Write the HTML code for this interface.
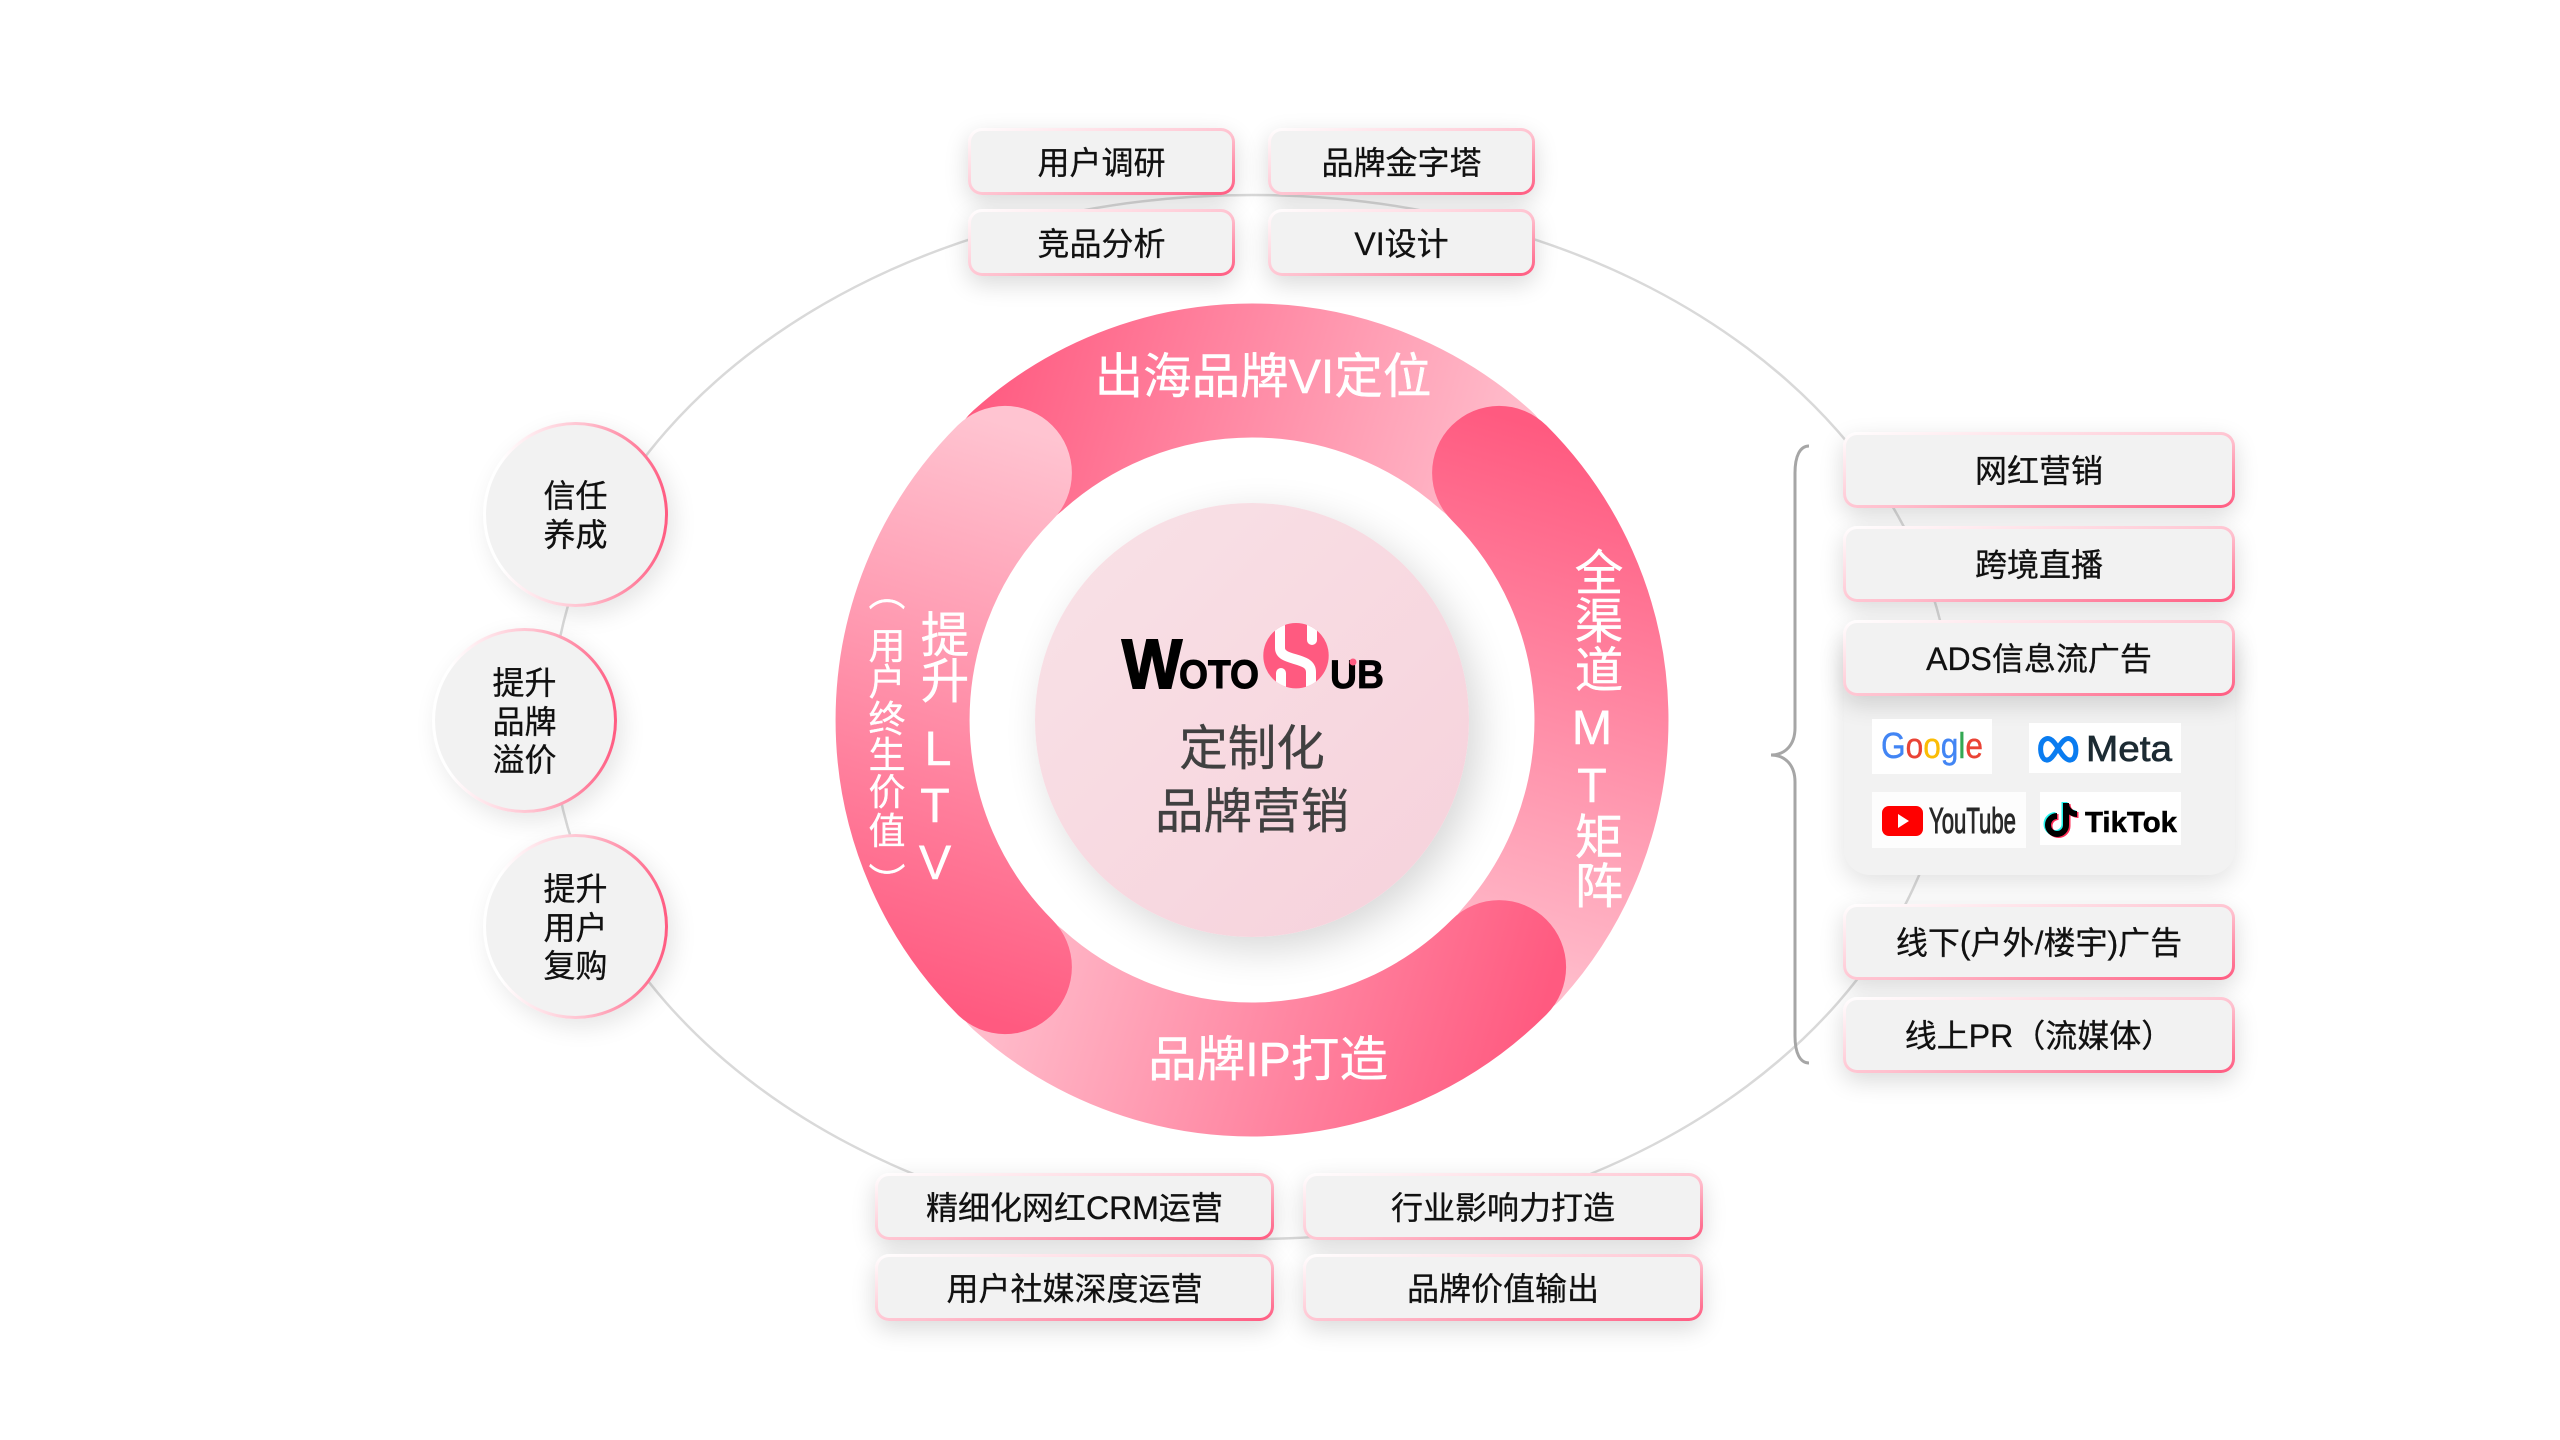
<!DOCTYPE html>
<html lang="zh-CN">
<head>
<meta charset="utf-8">
<title>定制化品牌营销</title>
<style>
html,body{margin:0;padding:0;background:#fff;}
#stage{position:relative;width:2560px;height:1440px;overflow:hidden;background:#fff;font-family:"Liberation Sans","Noto Sans CJK SC",sans-serif;}
svg.layer{position:absolute;left:0;top:0;width:2560px;height:1440px;}
svg text{font-family:"Liberation Sans","Noto Sans CJK SC",sans-serif;}
.box{position:absolute;box-sizing:border-box;display:flex;align-items:center;justify-content:center;text-align:center;font-size:32px;line-height:38.7px;color:#111;border:3px solid transparent;border-radius:14px;white-space:nowrap;padding-top:3px;-webkit-text-stroke:.3px #111;
background:linear-gradient(#f2f2f2,#f2f2f2) padding-box,linear-gradient(to bottom right,#ffffff 0%,#ffc0ce 55%,#ff5a80 100%) border-box;
box-shadow:0 8px 24px rgba(0,0,0,.15);}
.cir{border-radius:50%;background:linear-gradient(#f2f2f2,#f2f2f2) padding-box,linear-gradient(to right,#ffffff 10%,#ffc0ce 55%,#ff5a80 100%) border-box;box-shadow:6px 8px 24px rgba(0,0,0,.1);}
#core{position:absolute;left:1035px;top:503px;width:434px;height:434px;border-radius:50%;background:linear-gradient(135deg,#f9e2e7,#f6d1db);box-shadow:10px 12px 40px rgba(0,0,0,.16);}
#panel{position:absolute;left:1844px;top:640px;width:391px;height:235px;border-radius:0 0 26px 26px;background:#f2f2f2;box-shadow:0 8px 26px rgba(0,0,0,.12);}
</style>
</head>
<body>
<div id="stage">
<svg class="layer" viewBox="0 0 2560 1440">
<defs>
<linearGradient id="gT" gradientUnits="userSpaceOnUse" x1="932" y1="348" x2="1532" y2="528"><stop offset="0.08" stop-color="#ff5a80"/><stop offset="1" stop-color="#ffc4d1"/></linearGradient>
<linearGradient id="gR" gradientUnits="userSpaceOnUse" x1="1624" y1="400" x2="1444" y2="1000"><stop offset="0.08" stop-color="#ff5a80"/><stop offset="1" stop-color="#ffc4d1"/></linearGradient>
<linearGradient id="gB" gradientUnits="userSpaceOnUse" x1="1572" y1="1092" x2="972" y2="912"><stop offset="0.08" stop-color="#ff5a80"/><stop offset="1" stop-color="#ffc4d1"/></linearGradient>
<linearGradient id="gL" gradientUnits="userSpaceOnUse" x1="880" y1="1040" x2="1060" y2="440"><stop offset="0.08" stop-color="#ff5a80"/><stop offset="1" stop-color="#ffc4d1"/></linearGradient>
</defs>
<ellipse cx="1252" cy="717" rx="700" ry="522" fill="none" stroke="#d9d9d9" stroke-width="2.5"/>
<path d="M1809,446 C1800,446 1795,456 1795,473 L1795,728 C1795,745 1785,755 1771,755 C1785,755 1795,765 1795,782 L1795,1036 C1795,1053 1800,1063 1809,1063" fill="none" stroke="#a6a6a6" stroke-width="3"/>
<g fill="none" stroke-width="134" stroke-linecap="round">
<path d="M1018.1,460.3 A349.5,349.5 0 0 1 1485.9,460.3" stroke="url(#gT)"/>
<path d="M1499.1,472.9 A349.5,349.5 0 0 1 1511.7,953.9" stroke="url(#gR)"/>
<path d="M1499.1,967.1 A349.5,349.5 0 0 1 1018.1,979.7" stroke="url(#gB)"/>
<path d="M1004.9,967.1 A349.5,349.5 0 0 1 1004.9,472.9" stroke="url(#gL)"/>
</g>
</svg>

<div id="core"></div>

<!-- top -->
<div class="box" style="left:968px;top:128px;width:267px;height:67px">用户调研</div>
<div class="box" style="left:1268px;top:128px;width:267px;height:67px">品牌金字塔</div>
<div class="box" style="left:968px;top:209px;width:267px;height:67px">竞品分析</div>
<div class="box" style="left:1268px;top:209px;width:267px;height:67px">VI设计</div>

<!-- bottom -->
<div class="box" style="left:875px;top:1173px;width:399px;height:67px">精细化网红CRM运营</div>
<div class="box" style="left:1303px;top:1173px;width:400px;height:67px">行业影响力打造</div>
<div class="box" style="left:875px;top:1254px;width:399px;height:67px">用户社媒深度运营</div>
<div class="box" style="left:1303px;top:1254px;width:400px;height:67px">品牌价值输出</div>

<!-- left circles -->
<div class="box cir" style="left:483px;top:422px;width:185px;height:185px">信任<br>养成</div>
<div class="box cir" style="left:432px;top:628px;width:185px;height:185px">提升<br>品牌<br>溢价</div>
<div class="box cir" style="left:483px;top:834px;width:185px;height:185px">提升<br>用户<br>复购</div>

<!-- right list -->
<div id="panel"></div>
<div class="box" style="left:1843px;top:432px;width:392px;height:76px">网红营销</div>
<div class="box" style="left:1843px;top:526px;width:392px;height:76px">跨境直播</div>
<div class="box" style="left:1843px;top:620px;width:392px;height:76px">ADS信息流广告</div>
<div class="box" style="left:1843px;top:904px;width:392px;height:76px">线下(户外/楼宇)广告</div>
<div class="box" style="left:1843px;top:997px;width:392px;height:76px">线上PR（流媒体）</div>

<svg class="layer" viewBox="0 0 2560 1440">
<defs>
<clipPath id="hub"><circle cx="1296" cy="655.7" r="32.7"/></clipPath>
</defs>

<!-- ring labels -->
<g fill="#fff" stroke="#fff" stroke-width=".4" font-size="48.5" text-anchor="middle">
<text x="1263" y="393">出海品牌VI定位</text>
<text x="1268" y="1076">品牌IP打造</text>
<text x="1599" y="590">全</text>
<text x="1599" y="638">渠</text>
<text x="1599" y="687">道</text>
<text x="1592" y="744">M</text>
<text x="1592" y="802">T</text>
<text x="1599" y="854">矩</text>
<text x="1599" y="903">阵</text>
<text x="945" y="652">提</text>
<text x="945" y="698">升</text>
<text x="938" y="765">L</text>
<text x="935" y="822">T</text>
<text x="935" y="879">V</text>
</g>
<g fill="#fff" stroke="#fff" stroke-width=".3" font-size="37" text-anchor="middle">
<text x="887" y="606">︵</text>
<text x="887" y="659">用</text>
<text x="887" y="695">户</text>
<text x="887" y="732">终</text>
<text x="887" y="768">生</text>
<text x="887" y="805">价</text>
<text x="887" y="844">值</text>
<text x="887" y="895">︶</text>
</g>

<!-- core text -->
<g fill="#404040" stroke="#404040" stroke-width=".3" font-size="48.5" text-anchor="middle">
<text x="1252" y="765">定制化</text>
<text x="1252" y="828">品牌营销</text>
</g>

<!-- WotoHub logo -->
<g fill="#000" stroke="#000" font-weight="bold">
<text x="1122" y="688" font-size="70" stroke-width="2" textLength="60" lengthAdjust="spacingAndGlyphs">W</text>
<text x="1179" y="688" font-size="40" stroke-width="1" textLength="80" lengthAdjust="spacingAndGlyphs">OTO</text>
<text x="1330" y="688" font-size="40" stroke-width=".8" textLength="54" lengthAdjust="spacingAndGlyphs">UB</text>
</g>
<circle cx="1353" cy="662" r="3.5" fill="#ff5a80"/>
<circle cx="1296" cy="655.7" r="32.7" fill="#ff5a80"/>
<g clip-path="url(#hub)" fill="none" stroke="#fff" stroke-width="10" stroke-linecap="round">
<path d="M1280,615 L1280,648 C1280,662 1311,656 1311,672 L1311,696"/>
<path d="M1312,615 L1312,640"/>
<path d="M1281,673 L1281,696"/>
</g>

<!-- logo tiles -->
<rect x="1872" y="719" width="120" height="55" fill="#fff"/>
<rect x="2029" y="723" width="152" height="50" fill="#fff"/>
<rect x="1872" y="792" width="154" height="56" fill="#fdfdfd"/>
<rect x="2040" y="792" width="141" height="53" fill="#fff"/>

<text x="1881" y="758" font-size="36" stroke-width=".4" textLength="102" lengthAdjust="spacingAndGlyphs"><tspan fill="#4285f4" stroke="#4285f4">G</tspan><tspan fill="#ea4335" stroke="#ea4335">o</tspan><tspan fill="#fbbc05" stroke="#fbbc05">o</tspan><tspan fill="#4285f4" stroke="#4285f4">g</tspan><tspan fill="#34a853" stroke="#34a853">l</tspan><tspan fill="#ea4335" stroke="#ea4335">e</tspan></text>

<path d="M2058,748 C2052,738 2048,737 2044,740 C2039,744 2040,755 2044,759 C2048,762 2052,759 2058,748 C2064,738 2068,737 2072,740 C2077,744 2077,755 2073,759 C2069,762 2064,759 2058,748 Z" fill="none" stroke="#0a7cf0" stroke-width="5"/>
<text x="2086" y="761" font-size="36" fill="#1c2b33" stroke="#1c2b33" stroke-width=".7" textLength="86" lengthAdjust="spacingAndGlyphs">Meta</text>

<rect x="1882" y="806" width="41" height="30" rx="7" fill="#f00"/>
<path d="M1898,814 L1909,821 L1898,828 Z" fill="#fff"/>
<text x="1929" y="833" font-size="36" fill="#282828" stroke="#282828" stroke-width="1" textLength="87" lengthAdjust="spacingAndGlyphs">YouTube</text>

<g fill="none" stroke-width="6">
<g stroke="#25f4ee" transform="translate(-1.5,-1)"><path d="M2066,803 L2066,825 A9,9 0 1 1 2057,816"/><path d="M2066,803 C2066,810 2072,814 2077,814"/></g>
<g stroke="#fe2c55" transform="translate(1.5,1)"><path d="M2066,803 L2066,825 A9,9 0 1 1 2057,816"/><path d="M2066,803 C2066,810 2072,814 2077,814"/></g>
<g stroke="#000"><path d="M2066,803 L2066,825 A9,9 0 1 1 2057,816"/><path d="M2066,803 C2066,810 2072,814 2077,814"/></g>
</g>
<text x="2085" y="832" font-size="29" font-weight="bold" fill="#000" stroke="#000" stroke-width=".5" textLength="92" lengthAdjust="spacingAndGlyphs">TikTok</text>
</svg>
</div>
</body>
</html>
